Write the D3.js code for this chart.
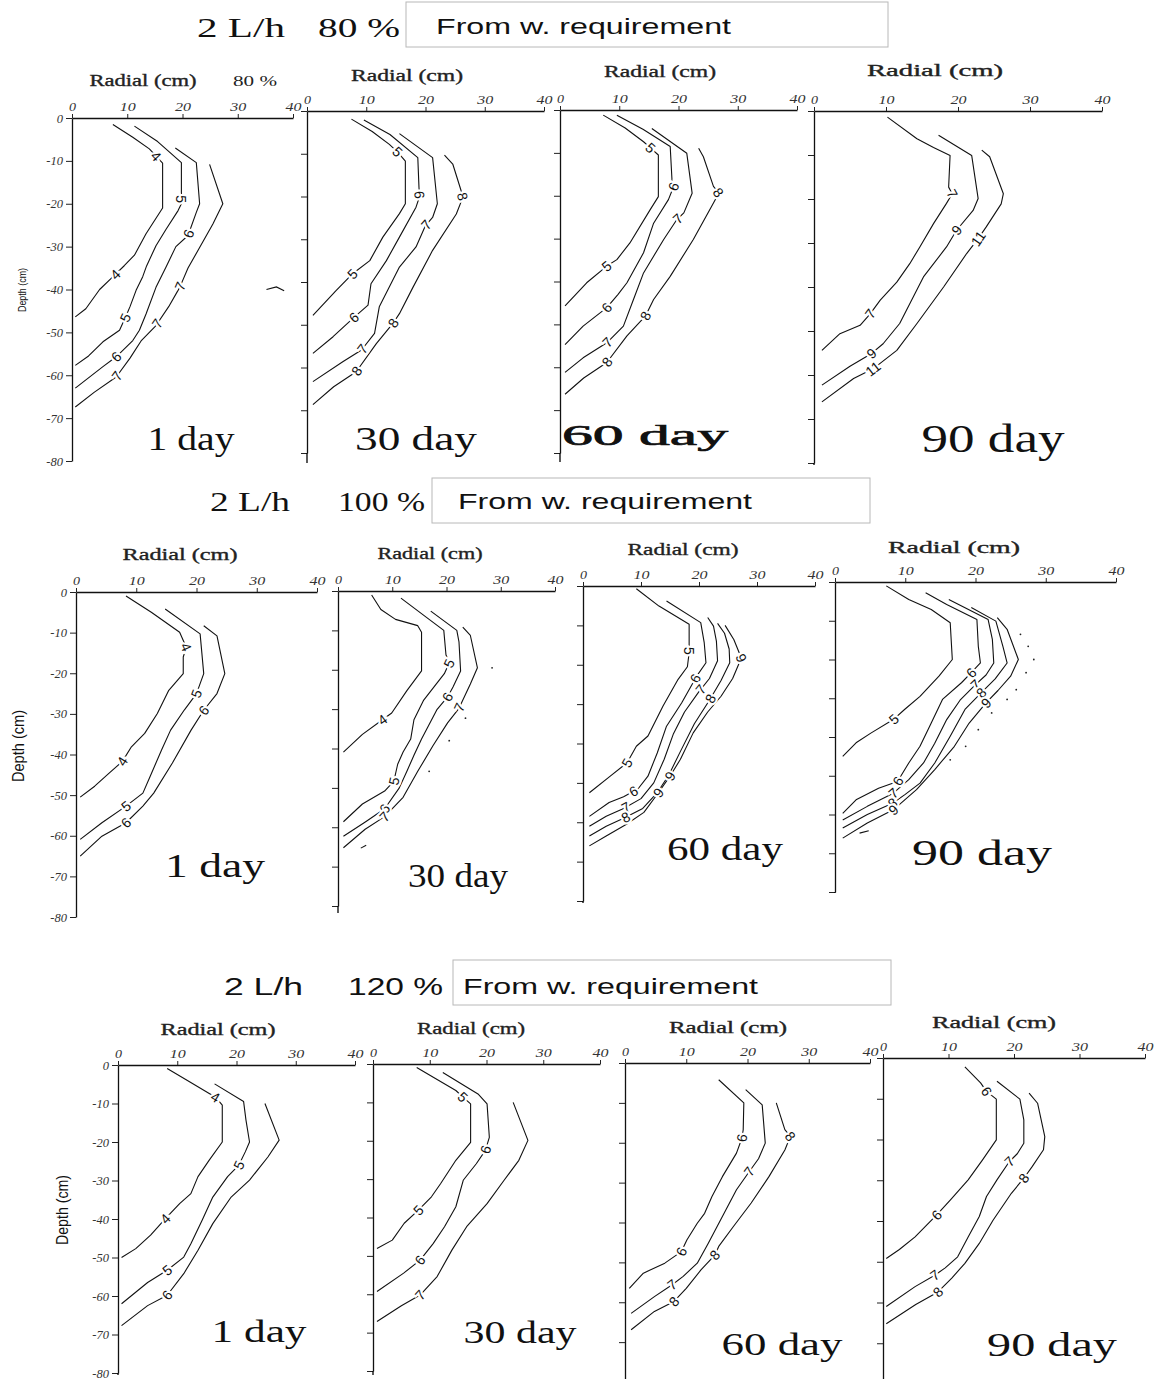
<!DOCTYPE html>
<html><head><meta charset="utf-8">
<script src="https://cdn.jsdelivr.net/npm/d3@7"></script>
<style>html,body{margin:0;padding:0;background:#fff;}</style>
</head><body>
<svg id="chart" width="1162" height="1379"></svg>
<script>
// ---------------- DATA ----------------
const flowRate = "2 L/h";
const rates = ["80 %", "100 %", "120 %"];
const boxText = "From w. requirement";
const days = ["1 day", "30 day", "60 day", "90 day"];
const radialTicks = [0, 10, 20, 30, 40];
const depthTicks = [0, -10, -20, -30, -40, -50, -60, -70, -80];
const radialTitle = "Radial (cm)";
const depthTitle = "Depth (cm)";

// contour lines: level, points [radial cm, depth cm], label points
const c80_d1 = [
  {level: 4, pts: [[7.4,-1.5],[11,-4.5],[14,-7.2],[16.4,-10.5],[16.4,-21],[13.4,-27],[11.3,-32],[9.5,-34.4],[7,-37.5],[5,-40],[2.5,-44.5],[0.6,-46.4]], labels: [[15.3,-8.8],[8,-36.7]]},
  {level: 5, pts: [[11.3,-1.9],[15.5,-5.5],[19.8,-10.4],[19.8,-20],[19.2,-21.6],[17,-26],[15.2,-29.8],[13.5,-34.5],[12.8,-37],[11.6,-40.2],[10.5,-44],[9.7,-46.4],[8.6,-49.5],[5.6,-52.2],[3,-55.5],[0.6,-57.7]], labels: [[19.9,-18.9],[9.7,-46.6]]},
  {level: 6, pts: [[18.7,-7],[22.5,-10.4],[23.1,-20],[22.5,-22],[21,-27.4],[18.8,-30],[17,-34.8],[15.2,-39.5],[13.4,-45.7],[12.2,-49.5],[11,-51.9],[8,-55.7],[5.6,-58],[0.6,-63]], labels: [[21.2,-27],[8,-55.7]]},
  {level: 7, pts: [[24.9,-10.8],[27.3,-20],[25.5,-24.7],[23.1,-30.2],[21,-35],[19.5,-39.5],[17.5,-44],[15.2,-48.4],[12.5,-52],[10.5,-56],[8,-60.4],[4,-64],[0.6,-67.4]], labels: [[19.5,-39.2],[15.5,-48],[8.2,-60.2]]}
];
const frag80_d1 = [[[35.2,-40],[37,-39.4],[38.4,-40.3]]];

const c80_d30 = [
  {level: 5, pts: [[7.5,-1.9],[11,-4.8],[13.9,-7.8],[15.3,-9.6],[16.6,-11.7],[16.6,-21.7],[15.6,-24],[12.8,-29.5],[10.6,-35],[7.75,-38],[4.9,-42],[1,-47.8]], labels: [[15.1,-9.8],[7.75,-38.2]]},
  {level: 6, pts: [[9.6,-2.1],[14,-5.5],[18.7,-10.9],[18.9,-17.9],[19,-20],[18.4,-22.5],[15.6,-29.5],[13.4,-35],[10.8,-40.4],[10.3,-45.4],[7.75,-48.5],[4.4,-52.8],[1,-56.7]], labels: [[19.1,-19.6],[7.9,-48.3]]},
  {level: 7, pts: [[15.6,-5.3],[21.2,-10.9],[22,-21.7],[21.2,-24.9],[20,-26.8],[18.4,-31.8],[15.6,-36.5],[12.2,-45.8],[11.4,-52],[9.2,-55.9],[6.1,-58.6],[1,-63.3]], labels: [[20.1,-26.6],[9.3,-55.6]]},
  {level: 8, pts: [[23.2,-10.3],[24.6,-12.4],[26,-18.6],[26.3,-20.2],[25.2,-24.1],[21.2,-32.6],[17.9,-41.2],[15.6,-47.4],[14.5,-49.7],[11.7,-54.4],[8.3,-61],[4.5,-64.5],[1,-68.7]], labels: [[26.2,-20],[14.5,-49.5],[8.4,-60.8]]}
];

const c80_d60 = [
  {level: 5, pts: [[7.3,-1.2],[11,-4.2],[14.1,-7.4],[15.4,-9],[16.6,-10.5],[16.6,-20.2],[15.2,-23.3],[11.8,-31],[9.6,-34.9],[7.9,-36.4],[4.5,-40.3],[0.85,-45.7]], labels: [[15.2,-8.9],[7.9,-36.5]]},
  {level: 6, pts: [[9.6,-1.2],[14,-4.5],[18.6,-8.5],[18.9,-16.3],[19.2,-17.8],[18.3,-20.9],[15.8,-26.4],[14.1,-33.3],[11.3,-40.3],[9.8,-43],[7.9,-46.1],[3.9,-50.4],[0.85,-54.7]], labels: [[19.1,-17.8],[7.9,-46.1]]},
  {level: 7, pts: [[15.5,-4.3],[21.4,-10.1],[22.3,-19.4],[20.9,-24],[19.7,-25.6],[17.5,-30.2],[14.1,-38],[12.4,-44.2],[10.7,-50.4],[7.9,-54.3],[3.9,-57.8],[0.85,-61.2]], labels: [[19.9,-25.4],[8,-54.2]]},
  {level: 8, pts: [[23.4,-8.9],[24.2,-10.9],[25.9,-17.8],[26.8,-19.4],[25.9,-21.7],[22.5,-30.2],[18.6,-38.8],[15.8,-44.2],[14.4,-48.1],[11.3,-52.7],[7.9,-58.9],[4,-62.5],[0.85,-66.3]], labels: [[26.6,-19.4],[14.4,-48],[8,-58.8]]}
];

const c80_d90 = [
  {level: 7, pts: [[10.2,-1.4],[14.3,-6.3],[16.6,-8.3],[18.9,-10.1],[18.7,-17.3],[19.2,-18.8],[18.4,-21],[16.6,-25.6],[14.7,-30.9],[13.3,-34.7],[11.5,-38.9],[9.2,-43],[7.8,-46.1],[6.4,-48.7],[3.6,-50.6],[1.1,-54.4]], labels: [[19.2,-18.8],[7.8,-46]]},
  {level: 9, pts: [[17.3,-5.5],[21.9,-10.1],[22.8,-19.9],[22.1,-22.6],[19.8,-27.1],[18.4,-30.9],[15.2,-37.7],[11.9,-48.3],[9.6,-52.9],[8,-55.1],[5,-58],[1.1,-62.3]], labels: [[19.8,-27],[8,-55.1]]},
  {level: 11, pts: [[23.3,-8.9],[24.4,-10.4],[26.3,-18.8],[26,-21.1],[23.9,-26.4],[22.8,-29],[21.2,-32.4],[18,-40],[14.3,-48.3],[11.5,-54.4],[8.2,-58.6],[5.5,-60.8],[1.1,-66.1]], labels: [[22.8,-29],[8.2,-58.6]]}
];

const c100_d1 = [
  {level: 4, pts: [[8.3,-1],[12.5,-5],[17.2,-9.9],[18.3,-13.6],[17.8,-16],[17.8,-20.1],[15.4,-24.2],[13.5,-29.9],[11.4,-34.8],[9.2,-38.1],[7.7,-41.7],[5.5,-44.6],[3.1,-47.8],[0.7,-50.5]], labels: [[18.2,-13.6],[7.7,-41.7]]},
  {level: 5, pts: [[14.8,-4.2],[20.6,-10.3],[21.2,-20.1],[20,-25],[18,-29],[15.7,-34],[14.2,-38.9],[12.3,-45.4],[11.1,-49.5],[8.3,-52.7],[4.3,-56.8],[0.7,-60.9]], labels: [[20,-25],[8.3,-52.7]]},
  {level: 6, pts: [[21.2,-8.3],[23.4,-10.8],[24.7,-20.1],[23.4,-25],[21.2,-29.1],[19.1,-34],[16,-42.1],[12.9,-49.5],[11.1,-52.7],[8.3,-56.8],[4.3,-60.1],[0.7,-65]], labels: [[21.2,-29.1],[8.3,-56.8]]}
];

const c100_d30 = [
  {level: 4, pts: [[6.2,-1],[7.9,-4.7],[10.6,-7.2],[14.7,-8.8],[15.4,-10.5],[15.4,-20.3],[12.7,-25.3],[9.9,-31],[8.2,-32.7],[4.5,-36.4],[1,-40.9]], labels: [[8.2,-32.7]]},
  {level: 5, pts: [[11.6,-1.8],[16.8,-7.2],[19.5,-10],[19.9,-16.2],[20.5,-18.3],[19.6,-21],[15.8,-27.7],[14,-32.7],[13.4,-37.6],[12,-40.9],[11,-44],[10.3,-48.3],[8.6,-50.8],[4.5,-54.1],[1,-58.6]], labels: [[20.3,-18.3],[10.3,-48.3]]},
  {level: 6, pts: [[17.1,-5.1],[21.9,-10],[22.3,-12.9],[22.6,-20.3],[21.2,-24.4],[20.2,-26.9],[18.2,-30.2],[15.4,-37.6],[14,-41.7],[12.7,-45.8],[11.3,-50],[8.6,-55.3],[5.1,-58.6],[1,-62.3]], labels: [[20.2,-26.9],[8.6,-55.3]]},
  {level: 7, pts: [[23,-9.2],[24.4,-11.3],[25.7,-19.5],[24.4,-23.6],[22.3,-29.8],[20.2,-33.5],[17.5,-39.3],[14.7,-45.8],[12,-52.4],[8.6,-57.3],[5,-60.5],[1,-65.2]], labels: [[22.3,-29.5],[8.6,-57.3]]}
];
const dots100_d30 = [[28.4,-19.5],[23.5,-32.3],[20.5,-38],[16.8,-45.8]];
const frag100_d30 = [[[4.2,-65.3],[5.2,-64.6]]];

const c100_d60 = [
  {level: 5, pts: [[9.2,-0.7],[13.1,-5.1],[18.3,-9.7],[18.3,-16.9],[18,-20.5],[16.4,-23.7],[13.8,-30.5],[11.2,-38.1],[9.2,-40.7],[7.6,-44.9],[4.7,-48.3],[1.1,-52.5]], labels: [[18.3,-16.5],[7.6,-44.9]]},
  {level: 6, pts: [[14.4,-3.8],[20.3,-9.3],[20.9,-14.4],[21.2,-19.5],[19.6,-22.9],[17,-29.7],[14.4,-35.6],[12.8,-42.4],[11.2,-48.3],[9.5,-51.5],[7,-53.5],[4.5,-55],[1.1,-58.5]], labels: [[19.4,-23.5],[8.8,-52.3]]},
  {level: 7, pts: [[21.5,-8],[22.5,-10.2],[23,-14],[23.2,-19],[21.8,-23.5],[19.9,-27],[17.5,-32],[15.6,-37.5],[14,-44],[12.2,-50],[10,-54],[7,-56.5],[4,-58.5],[1.1,-61]], labels: [[20.3,-26.2],[7.4,-56.2]]},
  {level: 8, pts: [[23.2,-9.5],[24.4,-12],[25.2,-16],[25.3,-19.5],[23.8,-24],[21.8,-29],[19.2,-35],[16.8,-42],[14.8,-48],[12.8,-52.5],[10.3,-56.5],[7,-59],[4,-61],[1.1,-63.5]], labels: [[22,-28.6],[7.4,-58.8]]},
  {level: 9, pts: [[24.5,-10],[26,-13.6],[27.3,-18.3],[25.8,-23.5],[23.8,-28],[21.5,-32],[19,-37.3],[16.8,-44],[15,-48.3],[13,-52.5],[10.5,-57.5],[7.5,-60.5],[4,-63.5],[1.1,-66]], labels: [[27.3,-18.3],[15,-48.3],[13,-52.5]]}
];

const c100_d90 = [
  {level: 5, pts: [[7.3,-1],[10.5,-4.5],[13.7,-7.1],[16.4,-10.5],[16.7,-20],[14.8,-24.3],[12.1,-29.5],[9.9,-32.9],[8.3,-35.5],[5.1,-39],[3,-41.5],[1.1,-45]], labels: [[8.3,-35.3]]},
  {level: 6, pts: [[12.9,-2.8],[15.9,-5.8],[20.2,-9.7],[20.4,-16.6],[20.7,-20.9],[19.4,-23.4],[18,-26],[15.3,-30.3],[13.7,-36.4],[12.1,-42.4],[10.5,-46.7],[8.9,-51.5],[6.2,-53.2],[3,-56.2],[1.1,-59.7]], labels: [[19.4,-23.4],[8.9,-51.3]]},
  {level: 7, pts: [[16.2,-4.5],[21.8,-9.7],[22.4,-14.8],[22.6,-20.9],[21.5,-24],[20,-26.5],[17.8,-30.5],[15.9,-35.5],[14.2,-41.6],[12.6,-46.7],[10.5,-51],[8.3,-54.5],[4.6,-57.9],[1.1,-61.4]], labels: [[20,-26.5],[8.3,-54.5]]},
  {level: 8, pts: [[19.4,-6.6],[22.9,-10.1],[23.9,-16.6],[24.5,-20.9],[22.8,-25],[20.8,-28.6],[18.5,-32.9],[16.4,-39.8],[14.2,-46.7],[12.1,-51.9],[10,-54.8],[8.2,-57.1],[4.6,-60],[1.1,-63.5]], labels: [[20.8,-28.6],[8.2,-57.1]]},
  {level: 9, pts: [[23.1,-9.2],[24.5,-12.2],[26.1,-20],[25,-24.3],[23.2,-28],[21.5,-31.2],[19.1,-36.4],[17,-42.4],[14.2,-48.4],[11.6,-53.6],[8.3,-58.8],[4.6,-62.2],[1.1,-66.1]], labels: [[21.5,-31.2],[8.3,-58.8]]}
];
const dots100_d90 = [[26.4,-13.5],[27.5,-16.6],[28.3,-20],[27.2,-23.4],[25.8,-27.8],[24.5,-30.3],[22.3,-33.8],[20.4,-38.1],[18.6,-42.4],[16.4,-45.9]];
const frag100_d90 = [[[3.5,-64.8],[4.8,-64.2]]];

const c120_d1 = [
  {level: 4, pts: [[8.3,-0.9],[12,-4.3],[15.4,-7.4],[16.5,-8.4],[17.6,-10.4],[17.6,-20],[15.4,-24.7],[13.5,-29],[12.3,-33.4],[10.4,-36],[8,-39.9],[5.5,-44.2],[3,-47.7],[0.6,-50]], labels: [[16.4,-8.4],[8,-39.9]]},
  {level: 5, pts: [[16.3,-4.9],[21.2,-9.5],[21.6,-14.3],[22.2,-20],[21.5,-22.5],[20.4,-26],[18.5,-29],[16,-34.3],[14.2,-40.3],[12.3,-46.4],[11.1,-49.9],[8.3,-53.3],[5,-56.5],[0.6,-62]], labels: [[20.4,-26],[8.3,-53.3]]},
  {level: 6, pts: [[24.8,-10],[27.2,-19.5],[25.3,-23.9],[22.2,-29.9],[19.1,-34.3],[16,-41.2],[13.5,-48.1],[11.1,-54.2],[8.3,-59.8],[5,-62.5],[0.6,-67.7]], labels: [[8.3,-59.8]]}
];

const c120_d30 = [
  {level: 5, pts: [[7.7,-0.9],[11,-3.8],[14.6,-6.9],[15.9,-8.7],[17.2,-10.4],[17.2,-20.4],[14.6,-25.1],[11.9,-31.2],[10.3,-34.6],[8,-38.1],[5.5,-41.5],[3.4,-45.9],[0.7,-48.1]], labels: [[15.9,-8.5],[8,-38.1]]},
  {level: 6, pts: [[12.3,-2.2],[18.5,-7.8],[20.1,-10.4],[20.5,-19.1],[19.8,-22.5],[18.2,-26],[15.9,-30.3],[14.6,-37.2],[12.6,-42.4],[10.6,-46.8],[8.3,-51.1],[5.4,-54.5],[0.7,-59.3]], labels: [[19.9,-22.3],[8.3,-51.1]]},
  {level: 7, pts: [[24.7,-10],[27.3,-19.9],[25.7,-25.1],[23.1,-30.3],[20.1,-36.4],[16.5,-42.4],[13.9,-48.5],[11.3,-55.4],[8.3,-60.2],[5,-63],[0.7,-67.1]], labels: [[8.3,-60.2]]}
];

const c120_d60 = [
  {level: 6, pts: [[15.3,-4.2],[19.4,-10],[19.3,-16.7],[19.1,-18.8],[18.2,-22.6],[15.9,-28.5],[14.2,-33.5],[13,-37.7],[11.8,-40.2],[10.1,-44.4],[9.2,-47.3],[6.5,-50.2],[3,-52.7],[0.7,-56.5]], labels: [[19.1,-18.8],[9.2,-47.3]]},
  {level: 7, pts: [[19.7,-6.7],[22.4,-10.5],[22.9,-20.1],[21.8,-24],[20.3,-27.2],[18.2,-31.8],[15.9,-38.5],[13.6,-45.2],[11.8,-50.2],[9.5,-53.5],[7.7,-55.6],[4.8,-58.6],[1,-62.8]], labels: [[20.3,-27.2],[7.7,-55.6]]},
  {level: 8, pts: [[24.7,-10],[26.1,-16.7],[27,-18.4],[26.1,-21.8],[23.5,-28.5],[20.6,-35.1],[17.7,-41],[15.3,-46],[14.7,-48.1],[12.4,-51.9],[10,-56.5],[8,-59.8],[4.8,-62.3],[1,-66.9]], labels: [[27,-18.4],[14.6,-48.1],[8,-59.8]]}
];

const c120_d90 = [
  {level: 6, pts: [[12.5,-2.2],[14.9,-6.1],[15.8,-8.2],[17.3,-10.1],[17.3,-20.1],[15.2,-25],[13,-29.9],[10.3,-34.8],[8.2,-38.5],[4.9,-43.9],[2.5,-47],[0.5,-49.2]], labels: [[15.8,-8.2],[8.2,-38.5]]},
  {level: 7, pts: [[17.4,-5.7],[20.9,-10.1],[21.5,-15.2],[21.5,-20.9],[20.5,-23.5],[19.3,-25.4],[17.4,-29.9],[15.8,-34],[14.7,-38.9],[13,-43.9],[11.4,-48.8],[9.5,-51.5],[7.9,-53.3],[4.9,-56.1],[0.5,-61]], labels: [[19.3,-25.4],[7.9,-53.3]]},
  {level: 8, pts: [[22.3,-8.6],[23.6,-11.1],[24.7,-19.3],[24.5,-22.5],[22.8,-26.6],[21.5,-29.5],[19.6,-33.2],[16.8,-39.8],[14.7,-45.5],[12.5,-50.4],[10.5,-54],[8.4,-57.4],[5,-60.5],[0.5,-65.2]], labels: [[21.5,-29.5],[8.4,-57.4]]}
];

// ---------------- LAYOUT (pixels) ----------------
const rowLayout = [
  {title: {x1: 197, w1: 88, x2: 318, w2: 82, y: 37, size: 27, font: "Liberation Serif"},
   box: {x: 406, y: 2, w: 482, h: 45, tx: 436, tw: 295, ty: 34}},
  {title: {x1: 210, w1: 80, x2: 338, w2: 87, y: 511, size: 27, font: "Liberation Serif"},
   box: {x: 432, y: 478, w: 438, h: 45, tx: 458, tw: 294, ty: 509}},
  {title: {x1: 224, w1: 79, x2: 348, w2: 95, y: 995, size: 23, font: "Liberation Sans"},
   box: {x: 453, y: 960, w: 438, h: 45, tx: 463, tw: 295, ty: 994}}
];

const panelLayout = [
  // row 1
  {x0: 72, x40: 293, y0: 118, y80: 461, yEnd: 461, yLab: {x: 22, y: 290, size: 10, len: 44},
   rad: [143, 86, 107], day: [191, 450, 87, 33, 0]},
  {x0: 307, x40: 544, y0: 111, y80: 453, yEnd: 463, rad: [407, 81, 112], day: [416, 450, 122, 33, 0]},
  {x0: 560, x40: 797, y0: 110, y80: 453, yEnd: 462, rad: [660, 77, 112], day: [645, 445, 166, 30, 0.7]},
  {x0: 814, x40: 1102, y0: 111, y80: 463, yEnd: 465, rad: [935, 76, 136], day: [993, 452, 143, 40, 0]},
  // row 2
  {x0: 76, x40: 317, y0: 592, y80: 917, yEnd: 917, yLab: {x: 18, y: 746, size: 17, len: 72},
   rad: [180, 560, 115], day: [215, 877, 100, 34, 0]},
  {x0: 338, x40: 555, y0: 591, y80: 906, yEnd: 913, rad: [430, 559, 105], day: [458, 887, 100, 33, 0]},
  {x0: 583, x40: 815, y0: 586, y80: 901, yEnd: 903, rad: [683, 555, 111], day: [725, 860, 116, 33, 0]},
  {x0: 835, x40: 1116, y0: 582, y80: 892, yEnd: 893, rad: [954, 553, 132], day: [982, 865, 140, 36, 0]},
  // row 3
  {x0: 118, x40: 355, y0: 1065, y80: 1373, yEnd: 1375, yLab: {x: 62, y: 1210, size: 17, len: 70},
   rad: [218, 1035, 115], day: [259, 1342, 95, 32, 0]},
  {x0: 373, x40: 600, y0: 1064, y80: 1371, yEnd: 1375, rad: [471, 1034, 108], day: [520, 1343, 113, 32, 0]},
  {x0: 625, x40: 870, y0: 1063, y80: 1382, yEnd: 1379, rad: [728, 1033, 118], day: [782, 1355, 121, 31, 0]},
  {x0: 883, x40: 1145, y0: 1058, y80: 1384, yEnd: 1379, rad: [994, 1028, 124], day: [1052, 1356, 130, 33, 0]}
];

const panelData = [
  {c: c80_d1, frag: frag80_d1}, {c: c80_d30}, {c: c80_d60}, {c: c80_d90},
  {c: c100_d1}, {c: c100_d30, dots: dots100_d30, frag: frag100_d30}, {c: c100_d60}, {c: c100_d90, dots: dots100_d90, frag: frag100_d90},
  {c: c120_d1}, {c: c120_d30}, {c: c120_d60}, {c: c120_d90}
];

// ---------------- DRAW ----------------
const svg = d3.select("#chart");
svg.append("rect").attr("width", 1162).attr("height", 1379).attr("fill", "#fff");

function stretchText(g, s, x, y, len, size, font, anchor, extra) {
  const t = g.append("text").attr("x", x).attr("y", y).text(s)
    .attr("font-family", font).attr("font-size", size).attr("fill", "#111")
    .attr("text-anchor", anchor || "start");
  if (len) t.attr("textLength", len).attr("lengthAdjust", "spacingAndGlyphs");
  if (extra) extra(t);
  return t;
}

// row titles and boxes
rowLayout.forEach((r, i) => {
  const g = svg.append("g");
  stretchText(g, flowRate, r.title.x1, r.title.y, r.title.w1, r.title.size, r.title.font);
  stretchText(g, rates[i], r.title.x2, r.title.y, r.title.w2, r.title.size, r.title.font);
  g.append("rect").attr("x", r.box.x).attr("y", r.box.y).attr("width", r.box.w).attr("height", r.box.h)
    .attr("fill", "none").attr("stroke", "#b8b8b8").attr("stroke-width", 1);
  stretchText(g, boxText, r.box.tx, r.box.ty, r.box.tw, 22, "Liberation Sans");
});

function nearestOnPath(px, p) {
  let best = Infinity, ang = 0, q = p;
  for (let i = 0; i < px.length - 1; i++) {
    const [ax, ay] = px[i], [bx, by] = px[i + 1];
    const dx = bx - ax, dy = by - ay, L2 = dx * dx + dy * dy || 1;
    let t = ((p[0] - ax) * dx + (p[1] - ay) * dy) / L2;
    t = Math.max(0, Math.min(1, t));
    const qx = ax + t * dx, qy = ay + t * dy;
    const d = (p[0] - qx) ** 2 + (p[1] - qy) ** 2;
    if (d < best) { best = d; ang = Math.atan2(dy, dx) * 180 / Math.PI; q = [qx, qy]; }
  }
  if (ang > 90) ang -= 180;
  if (ang < -90) ang += 180;
  return {q, ang};
}

panelLayout.forEach((L, i) => {
  const D = panelData[i];
  const g = svg.append("g");
  const x = d3.scaleLinear().domain([0, 40]).range([L.x0, L.x40]);
  const y = d3.scaleLinear().domain([-80, 0]).range([L.y80, L.y0]);

  // x axis (top)
  const gx = g.append("g").attr("transform", `translate(0,${L.y0})`)
    .call(d3.axisTop(x).tickValues(radialTicks).tickSize(4).tickSizeOuter(0).tickPadding(3).tickFormat(d => String(d)));
  gx.selectAll("text").attr("font-family", "Liberation Serif").attr("font-style", "italic")
    .attr("font-size", 13).attr("fill", "#333").attr("textLength", d => d === 0 ? 7 : 16)
    .attr("lengthAdjust", "spacingAndGlyphs");

  // y axis (left)
  const first = !!L.yLab;
  const gy = g.append("g").attr("transform", `translate(${L.x0},0)`)
    .call(d3.axisLeft(y).tickValues(depthTicks).tickSize(6).tickSizeOuter(0).tickPadding(3)
      .tickFormat(d => first ? String(d) : ""));
  gy.selectAll("text").attr("font-family", "Liberation Serif").attr("font-style", "italic")
    .attr("font-size", 12.5).attr("fill", "#333");
  if (L.yEnd > L.y80) {
    g.append("line").attr("x1", L.x0).attr("x2", L.x0).attr("y1", L.y80).attr("y2", L.yEnd)
      .attr("stroke", "#000").attr("stroke-width", 1.3);
  }
  g.selectAll(".domain").attr("stroke", "#111").attr("stroke-width", 1.3);
  g.selectAll(".tick line").attr("stroke", "#222");

  // axis titles
  stretchText(g, radialTitle, L.rad[0], L.rad[1], L.rad[2], 16, "Liberation Serif", "middle",
    t => t.attr("fill", "#222").attr("stroke", "#222").attr("stroke-width", 0.35));
  if (i === 0) {
    stretchText(g, rates[0], 233, 86, 44, 15, "Liberation Serif", "start", t => t.attr("fill", "#222"));
  }
  if (L.yLab) {
    stretchText(g, depthTitle, 0, 0, L.yLab.len, L.yLab.size, "Liberation Sans", "middle",
      t => t.attr("transform", `translate(${L.yLab.x},${L.yLab.y}) rotate(-90)`).attr("dominant-baseline", "central"));
  }

  // contours
  const line = d3.line().x(d => x(d[0])).y(d => y(d[1]));
  const cg = g.append("g");
  D.c.forEach(c => {
    cg.append("path").attr("d", line(c.pts)).attr("fill", "none").attr("stroke", "#111")
      .attr("stroke-width", 1.1).attr("stroke-linejoin", "round");
  });
  (D.frag || []).forEach(f => {
    cg.append("path").attr("d", line(f)).attr("fill", "none").attr("stroke", "#111").attr("stroke-width", 1.1);
  });
  (D.dots || []).forEach(p => {
    cg.append("circle").attr("cx", x(p[0])).attr("cy", y(p[1])).attr("r", 0.9).attr("fill", "#222");
  });
  // contour labels
  D.c.forEach(c => {
    const px = c.pts.map(p => [x(p[0]), y(p[1])]);
    c.labels.forEach(lp => {
      const {q, ang} = nearestOnPath(px, [x(lp[0]), y(lp[1])]);
      cg.append("text").attr("transform", `translate(${q[0]},${q[1]}) rotate(${ang})`)
        .attr("text-anchor", "middle").attr("dominant-baseline", "central")
        .attr("font-family", "Liberation Sans").attr("font-size", 14).attr("fill", "#111")
        .attr("stroke", "#fff").attr("stroke-width", 4.5).attr("paint-order", "stroke")
        .text(String(c.level));
    });
  });

  // day label
  stretchText(g, days[i % 4], L.day[0], L.day[1], L.day[2], L.day[3], "Liberation Serif", "middle",
    t => { if (L.day[4]) t.attr("stroke", "#111").attr("stroke-width", L.day[4]); });
});
</script>
</body></html>
